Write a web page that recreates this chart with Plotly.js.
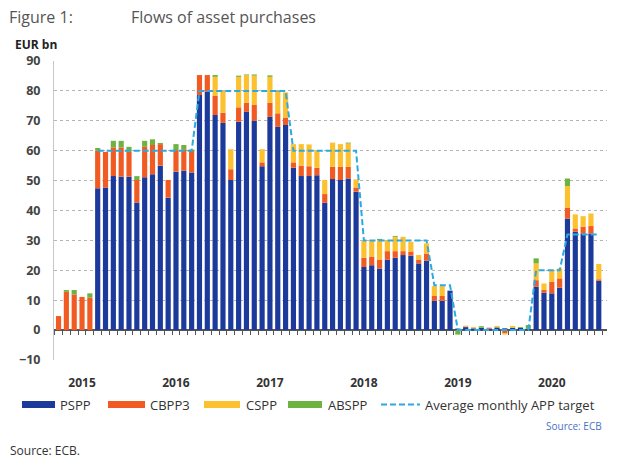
<!DOCTYPE html>
<html>
<head>
<meta charset="utf-8">
<script src="https://cdn.plot.ly/plotly-3.0.1.min.js"></script>
<style>html,body{margin:0;padding:0;background:#fff;}#chart{width:628px;height:468px;}</style>
</head>
<body>
<div id="chart"></div>
<script>
// Months (categories), Oct 2014 – Jul 2020
const months = [
  '2014-10','2014-11','2014-12',
  '2015-01','2015-02','2015-03','2015-04','2015-05','2015-06','2015-07','2015-08','2015-09','2015-10','2015-11','2015-12',
  '2016-01','2016-02','2016-03','2016-04','2016-05','2016-06','2016-07','2016-08','2016-09','2016-10','2016-11','2016-12',
  '2017-01','2017-02','2017-03','2017-04','2017-05','2017-06','2017-07','2017-08','2017-09','2017-10','2017-11','2017-12',
  '2018-01','2018-02','2018-03','2018-04','2018-05','2018-06','2018-07','2018-08','2018-09','2018-10','2018-11','2018-12',
  '2019-01','2019-02','2019-03','2019-04','2019-05','2019-06','2019-07','2019-08','2019-09','2019-10','2019-11','2019-12',
  '2020-01','2020-02','2020-03','2020-04','2020-05','2020-06','2020-07'
];
const pspp = [
  0,0,0,
  0,0,47.4,47.7,51.5,51.3,51.3,42.7,51.1,52.1,55.0,44.3,
  53.0,53.3,52.7,78.6,79.7,71.9,69.3,50.2,69.7,73.0,70.0,54.8,
  71.3,68.0,68.6,54.3,51.5,51.5,51.8,42.6,50.5,50.2,50.7,46.3,
  21.1,21.7,20.6,23.6,24.2,25.1,24.9,22.3,23.2,9.8,9.8,13.2,
  0.5,1.0,0.6,0.8,0.5,0.9,0.6,0.8,0.7,0.5,14.5,12.5,
  12.3,14.2,37.3,32.9,32.3,32.3,16.5
];
const cbpp3 = [
  4.7,12.8,11.9,
  11.1,10.9,12.6,11.9,9.6,9.8,8.3,7.5,10.2,9.8,7.2,5.9,
  7.2,7.2,7.2,6.7,5.6,6.4,3.4,3.6,4.8,3.0,5.3,1.3,
  4.7,4.5,2.5,1.8,3.5,3.3,2.5,2.9,4.1,4.4,3.9,1.4,
  3.1,2.9,3.0,2.8,2.2,1.3,1.4,1.3,2.4,1.6,1.6,0,
  0,0.2,0,0,0.3,0,-1.0,0,0,0,2.2,0.9,
  3.9,3.1,3.7,1.1,2.3,2.5,0.5
];
const cspp = [
  0,0,0,
  0,0,0,0,0,0,0,0,0,0,0,0,
  0,0,0,0,0,6.4,7.3,6.7,10.2,9.3,9.8,4.4,
  8.7,7.2,8.4,6.1,7.2,7.3,5.9,4.7,8.1,7.6,7.8,2.7,
  5.7,5.4,6.5,3.7,4.8,4.8,3.2,1.5,3.4,3.3,3.3,0,
  0,0.3,0.4,0,0,0.5,-0.5,0.6,0,0,5.6,2.2,
  3.9,3.3,7.2,4.7,3.5,4.2,5.1
];
const abspp = [
  0,0.6,1.5,
  0,1.4,0.9,0,2.2,2.2,1.7,1.3,2.0,1.9,0.4,0,
  2.0,1.4,0.5,0,0,0.6,0,0,0.4,0.2,0.4,0,
  0.5,0.3,0,0,0,0,0,0,0,0,0.3,0,
  0,0,0.4,0,0.3,0,0,0,0,0,0,0,
  -1.5,0,0,0.5,0,0,0,0,0.3,1.2,1.7,0,
  0,0,2.5,0,0,0,0
];
const target = [
  null,null,null,
  null,null,60,60,60,60,60,60,60,60,60,60,
  60,60,60,80,80,80,80,80,80,80,80,80,
  80,80,80,60,60,60,60,60,60,60,60,60,
  30,30,30,30,30,30,30,30,30,15,15,15,
  0,0,0,0,0,0,0,0,0,0,20,20,
  20,20,32,32,32,32,32
];
const yearTicks = ['2015-01','2016-01','2017-01','2018-01','2019-01','2020-01'];
const yearLabels = ['2015','2016','2017','2018','2019','2020'];
const seriesNames = ['PSPP','CBPP3','CSPP','ABSPP'];
const lineName = 'Average monthly APP target';

const colors = ['#1b3a9c','#f15a22','#fdc02f','#6db33f'];
const lineColor = '#2ca9e1';
const FONT = '"Open Sans", "Noto Sans", sans-serif';

const series = [pspp, cbpp3, cspp, abspp];
const traces = series.map((vals, k) => ({
  type: 'bar', x: months, y: vals, name: seriesNames[k],
  marker: {color: colors[k], line: {width: 0}}, hoverinfo: 'none'
}));
traces.push({
  type: 'scatter', mode: 'lines', x: months, y: target, name: lineName,
  line: {color: lineColor, width: 2, dash: '6px,3px'}, connectgaps: false, hoverinfo: 'none'
});

// plot-area pixel helpers for decorations (plot: x 54..607, y 61..360)
const L = 54, R = 607, T = 61, B = 360;
const fx = px => (px - L) / (R - L);
const fy = py => (B - py) / (B - T);

const shapes = [];
const annotations = [];
const legX = [[22,55],[108,145],[204,240],[288,322]];
const legTextX = [58,148,244,326];
legX.forEach((r, k) => {
  shapes.push({type:'rect', xref:'paper', yref:'paper', x0:fx(r[0]), x1:fx(r[1]), y0:fy(401), y1:fy(408),
    fillcolor: colors[k], line:{width:0}});
  annotations.push({xref:'paper', yref:'paper', x:fx(legTextX[k]), y:fy(404.5), text:seriesNames[k],
    showarrow:false, xanchor:'left', yanchor:'middle', font:{family:FONT, size:13, color:'#333'}});
});
shapes.push({type:'line', xref:'paper', yref:'paper', x0:fx(381), x1:fx(420), y0:fy(404.5), y1:fy(404.5),
  line:{color:lineColor, width:2, dash:'6px,3px'}});
annotations.push({xref:'paper', yref:'paper', x:fx(423), y:fy(404.5), text:lineName,
  showarrow:false, xanchor:'left', yanchor:'middle', font:{family:FONT, size:13, color:'#333'}});
annotations.push({xref:'paper', yref:'paper', x:fx(604), y:fy(426), text:'Source: ECB',
  showarrow:false, xanchor:'right', yanchor:'middle', font:{family:FONT, size:10, color:'#4a72c4'}});
annotations.push({xref:'paper', yref:'paper', x:fx(8), y:fy(450), text:'Source: ECB.',
  showarrow:false, xanchor:'left', yanchor:'middle', font:{family:FONT, size:12, color:'#333'}});
annotations.push({xref:'paper', yref:'paper', x:fx(13), y:fy(44), text:'<b>EUR bn</b>',
  showarrow:false, xanchor:'left', yanchor:'middle', font:{family:FONT, size:12, color:'#222'}});
annotations.push({xref:'paper', yref:'paper', x:fx(7), y:fy(17), text:'Figure 1:',
  showarrow:false, xanchor:'left', yanchor:'middle', font:{family:FONT, size:16, color:'#555'}});
annotations.push({xref:'paper', yref:'paper', x:fx(129), y:fy(17), text:'Flows of asset purchases',
  showarrow:false, xanchor:'left', yanchor:'middle', font:{family:FONT, size:16, color:'#555'}});

const layout = {
  width: 628, height: 468,
  margin: {l: L, r: 628 - R, t: T, b: 468 - B},
  paper_bgcolor: '#fff', plot_bgcolor: '#fff',
  barmode: 'relative', bargap: 0.34,
  showlegend: false,
  xaxis: {
    type: 'category', range: [-0.58, 70.05], categoryorder: 'array', categoryarray: months,
    tickmode: 'array', tickvals: yearTicks, ticktext: yearLabels,
    ticks: '', showgrid: false, showline: false, zeroline: false,
    ticklabelstandoff: 14,
    tickfont: {family: FONT, size: 12, color: '#333', weight: 'bold'}
  },
  xaxis2: {
    overlaying: 'x', anchor: 'free', position: 0.1, side: 'bottom',
    range: [-0.58, 70.05], tickmode: 'linear', tick0: 0.5, dtick: 1,
    ticks: 'outside', ticklen: 4, tickwidth: 1, tickcolor: '#555',
    showticklabels: false, showgrid: false, showline: false, zeroline: false
  },
  yaxis: {
    range: [-10, 90], tickmode: 'linear', tick0: -10, dtick: 10,
    showgrid: true, gridcolor: '#b5b5b5', griddash: 'dot', gridwidth: 1,
    zeroline: true, zerolinecolor: '#555', zerolinewidth: 1.5,
    showline: true, linecolor: '#c8c8c8', linewidth: 1,
    ticks: '', ticklabelstandoff: 10,
    tickfont: {family: FONT, size: 12.5, color: '#444', weight: 'bold'}
  },
  shapes: shapes,
  annotations: annotations
};

// invisible helper trace so the overlay tick axis is drawn
traces.push({type:'scatter', x:[0], y:[0], xaxis:'x2', mode:'markers', marker:{opacity:0}, hoverinfo:'none', showlegend:false});

Plotly.newPlot('chart', traces, layout, {displayModeBar: false, staticPlot: true});
</script>
</body>
</html>
